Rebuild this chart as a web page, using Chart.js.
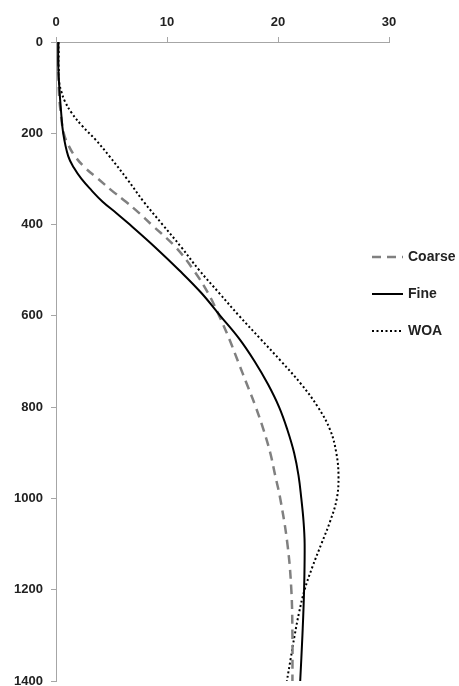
<!DOCTYPE html>
<html>
<head>
<meta charset="utf-8">
<script src="https://cdn.jsdelivr.net/npm/chart.js@4/dist/chart.umd.min.js"></script>
<style>
html,body{margin:0;padding:0;background:#fff;overflow:hidden;}
#wrap{position:absolute;left:0;top:0;width:459px;height:700px;}
</style>
</head>
<body>
<div id="wrap"><canvas id="c"></canvas></div>
<script>
// ---- data ----
const seriesNames = ['Coarse', 'Fine', 'WOA'];
const xTicks = [0, 10, 20, 30];
const yTicks = [0, 200, 400, 600, 800, 1000, 1200, 1400];

const coarseDepth = [0, 100, 150, 200, 225, 250, 275, 300, 325, 350, 375, 400, 450, 500, 550, 600, 650, 700, 750, 800, 850, 900, 950, 1000, 1100, 1200, 1300, 1400];
const coarseValue = [0.2, 0.25, 0.4, 0.7, 1.1, 1.7, 2.6, 3.8, 5.0, 6.3, 7.5, 8.6, 10.8, 12.4, 13.7, 14.7, 15.6, 16.4, 17.2, 18.0, 18.7, 19.3, 19.75, 20.2, 20.85, 21.2, 21.3, 21.3];

const fineDepth = [0, 50, 100, 150, 200, 250, 275, 300, 325, 350, 375, 400, 450, 500, 550, 600, 650, 700, 750, 800, 850, 900, 950, 1000, 1050, 1100, 1200, 1300, 1400];
const fineValue = [0.2, 0.2, 0.3, 0.45, 0.65, 1.1, 1.6, 2.3, 3.2, 4.2, 5.45, 6.65, 8.95, 11.1, 13.1, 14.8, 16.5, 17.9, 19.1, 20.1, 20.85, 21.45, 21.85, 22.1, 22.3, 22.4, 22.35, 22.2, 22.0];

const woaDepth = [0, 50, 90, 110, 130, 155, 185, 215, 250, 300, 350, 400, 450, 500, 550, 600, 650, 700, 750, 800, 850, 900, 950, 1000, 1050, 1100, 1150, 1200, 1250, 1300, 1350, 1400];
const woaValue = [0.25, 0.25, 0.3, 0.5, 0.8, 1.4, 2.4, 3.6, 4.8, 6.4, 7.9, 9.6, 11.3, 12.9, 14.7, 16.5, 18.4, 20.3, 22.1, 23.6, 24.7, 25.25, 25.45, 25.3, 24.7, 23.9, 23.1, 22.4, 21.9, 21.5, 21.15, 20.8];

function pts(depths, vals){ return depths.map((d,i)=>({x: vals[i], y: d})); }

const styles = [
  {color:'#808080', width:2.5, dash:[9,6]},
  {color:'#000000', width:2, dash:[]},
  {color:'#000000', width:2, dash:[2,2.5]}
];

const seriesData = [pts(coarseDepth, coarseValue), pts(fineDepth, fineValue), pts(woaDepth, woaValue)];

const sideLegend = {
  id: 'sideLegend',
  afterDraw(chart){
    const ctx = chart.ctx;
    const lx = chart.chartArea.right - 17;
    const rows = [257, 294, 331];
    ctx.save();
    ctx.font = 'bold 14px "Liberation Sans", Arial, sans-serif';
    ctx.textBaseline = 'middle';
    ctx.fillStyle = '#222';
    seriesNames.forEach((name, i) => {
      const s = styles[i];
      ctx.beginPath();
      ctx.strokeStyle = s.color;
      ctx.lineWidth = s.width;
      ctx.setLineDash(s.dash);
      ctx.moveTo(lx, rows[i]);
      ctx.lineTo(lx + 31, rows[i]);
      ctx.stroke();
      ctx.setLineDash([]);
      ctx.fillText(name, lx + 36, rows[i]);
    });
    ctx.restore();
  }
};

const axisColor = '#A6A6A6';
const tickFont = {family: '"Liberation Sans", Arial, sans-serif', size: 13, weight: 'bold'};

new Chart(document.getElementById('c'), {
  type: 'line',
  data: {
    datasets: seriesNames.map((name, i) => ({
      label: name,
      data: seriesData[i],
      borderColor: styles[i].color,
      borderWidth: styles[i].width,
      borderDash: styles[i].dash,
      pointRadius: 0,
      fill: false,
      tension: 0.4,
      order: i === 1 ? 0 : 1
    }))
  },
  options: {
    indexAxis: 'y',
    responsive: true,
    maintainAspectRatio: false,
    animation: false,
    layout: {padding: {left: 0, right: 70, top: 0, bottom: 19}},
    plugins: {legend: {display: false}, tooltip: {enabled: false}},
    scales: {
      x: {
        type: 'linear', position: 'top', min: 0, max: 30,
        afterBuildTicks: s => { s.ticks = xTicks.map(v => ({value: v})); },
        afterFit: s => { s.height = 42; },
        grid: {display: true, drawOnChartArea: false, drawTicks: true, tickLength: 5, color: axisColor},
        border: {display: true, color: axisColor, width: 1},
        ticks: {color: '#222', font: tickFont, padding: 7, callback: v => String(v)}
      },
      y: {
        type: 'linear', reverse: true, min: 0, max: 1400,
        afterBuildTicks: s => { s.ticks = yTicks.map(v => ({value: v})); },
        afterFit: s => { s.width = 56; },
        grid: {display: true, drawOnChartArea: false, drawTicks: true, tickLength: 5, color: axisColor},
        border: {display: true, color: axisColor, width: 1},
        ticks: {color: '#222', font: tickFont, padding: 8, callback: v => String(v)}
      }
    }
  },
  plugins: [sideLegend]
});
</script>
</body>
</html>
